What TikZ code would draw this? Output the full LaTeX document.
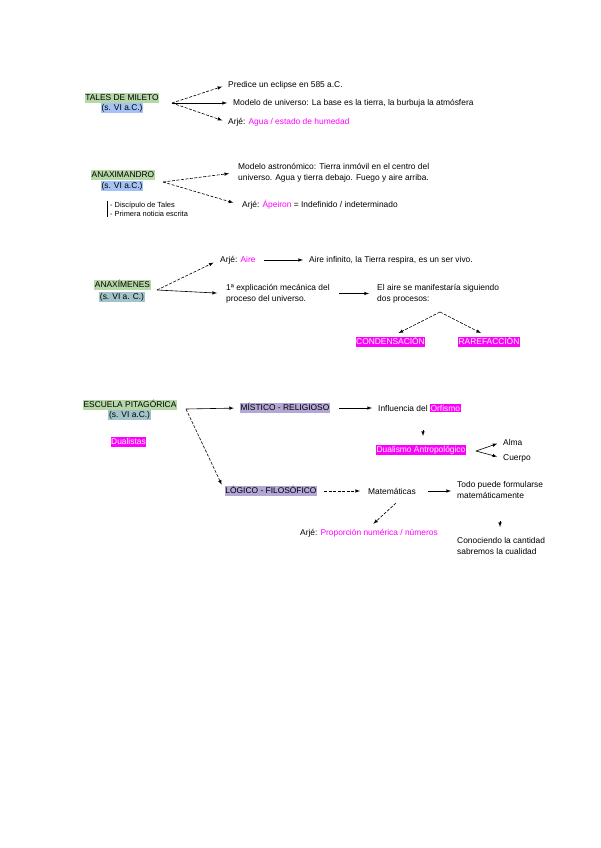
\documentclass[tikz,border=0pt]{standalone}
\usepackage{fontspec}
\setmainfont{Liberation Sans}
\usetikzlibrary{arrows}

\definecolor{hlgreen}{HTML}{B6D7A8}
\definecolor{hlblue}{HTML}{A4C2F4}
\definecolor{hlteal}{HTML}{A2C4C9}
\definecolor{hlpurple}{HTML}{B4A7D6}
\definecolor{hlmag}{HTML}{FF00FF}

\newcommand{\hlmagbox}[1]{{\setlength{\fboxsep}{0.6pt}\colorbox{hlmag}{\textcolor{white}{#1}}}}

\tikzstyle{txt} = [anchor=west, inner sep=1pt, font=\fontsize{8.4}{11}\selectfont]
\tikzstyle{note} = [anchor=west, inner sep=1pt, align=left, font=\fontsize{7.4}{9}\selectfont]
\tikzstyle{hl} = [inner xsep=0.6pt, inner ysep=0.6pt, text height=6.2pt, text depth=1.8pt,
    font=\fontsize{8.4}{9}\selectfont]
\tikzstyle{title} = [hl, fill=hlgreen]
\tikzstyle{mag} = [hl, fill=hlmag, text=white]
\tikzstyle{purp} = [hl, fill=hlpurple]
\tikzstyle{line} = [draw, -latex, semithick, shorten >=5pt, shorten <=5pt]
\tikzstyle{dline} = [line, dash pattern=on 3pt off 1.5pt]
\tikzstyle{fork} = [shorten <=0pt]

\begin{document}
\begin{tikzpicture}[x=1pt, y=-1pt]
\useasboundingbox (0,0) rectangle (600,848);

%Tales
\node (Tales) [title] at (122,98) {TALES DE MILETO};
\node (TalesSiglo) [hl, fill=hlblue] at (122,108) {(s. VI a.C.)};
\coordinate (TalesFork) at (172,103);
\node (Eclipse) [txt] at (227,85) {Predice un eclipse en 585 a.C.};
\node (ModeloT) [txt] at (232,103) {Modelo de universo: La base es la tierra, la burbuja la atmósfera};
\node (ArjeT) [txt] at (227,122) {Arjé: \textcolor{hlmag}{Agua / estado de humedad}};

\path [dline, fork](TalesFork)--(Eclipse.west);
\path [line, fork](TalesFork)--(ModeloT.west);
\path [dline, fork](TalesFork)--(ArjeT.west);

%Anaximandro
\node (Anaxi) [title] at (123,175) {ANAXIMANDRO};
\node (AnaxiSiglo) [hl, fill=hlblue] at (122,186) {(s. VI a.C.)};
\coordinate (AnaxiFork) at (163,182);
\node (ModeloA) [txt, align=left] at (237,172.5) {Modelo astronómico: Tierra inmóvil en el centro del\\universo. Agua y tierra debajo. Fuego y aire arriba.};
\node (ArjeA) [txt] at (241,205) {Arjé: \textcolor{hlmag}{Ápeiron} = Indefinido / indeterminado};
\node (Notas) [note] at (107,209) {\hspace{2pt}- Discípulo de Tales\\\hspace{2pt}- Primera noticia escrita};

\path [dline, fork, shorten >=8pt](AnaxiFork)--(ModeloA.west);
\path [dline, fork, shorten >=8pt](AnaxiFork)--(ArjeA.west);
\draw [semithick](Notas.north west)--(Notas.south west);

%Anaximenes
\node (Anaxim) [title] at (122.5,285) {ANAXÍMENES};
\node (AnaximSiglo) [hl, fill=hlteal] at (122,297) {(s. VI a. C.)};
\coordinate (AnaximFork) at (157,290);
\node (ArjeM) [txt] at (219,260) {Arjé: \textcolor{hlmag}{Aire}};
\node (AireInf) [txt] at (308,260) {Aire infinito, la Tierra respira, es un ser vivo.};
\node (Explic) [txt, align=left] at (225,293.5) {1ª explicación mecánica del\\proceso del universo.};
\node (Procesos) [txt, align=left] at (376,293.5) {El aire se manifestaría siguiendo\\dos procesos:};
\coordinate (ProcFork) at (440,312);
\node (Conden) [mag] at (390.5,342) {CONDENSACIÓN};
\node (Raref) [mag] at (489,342) {RAREFACCIÓN};

\path [dline, fork, shorten >=6pt](AnaximFork)--(ArjeM.west);
\path [line, fork, shorten >=8pt](AnaximFork)--(Explic.west);
\path [line, shorten <=7pt](ArjeM)--(AireInf);
\path [line, shorten <=8pt, shorten >=7pt](Explic.east |- Procesos.west)--(Procesos.west);
\path [dline, fork, shorten >=9pt](ProcFork)--(Conden.north);
\path [dline, fork, shorten >=9pt](ProcFork)--(Raref.north);

%Escuela pitagorica
\node (Pitag) [title] at (130,405) {ESCUELA PITAGÓRICA};
\node (PitagSiglo) [hl, fill=hlteal] at (129.5,415) {(s. VI a.C.)};
\node (Dualistas) [mag] at (128.5,442) {Dualistas};
\coordinate (PitagFork) at (186,409);
\node (Mistico) [purp] at (285,408) {MÍSTICO - RELIGIOSO};
\node (Logico) [purp] at (271,491) {LÓGICO - FILOSÓFICO};

%Mistico
\node (Orfismo) [txt] at (377,408) {Influencia del \hlmagbox{Orfismo}};
\coordinate (OrfTipA) at (423,430);
\coordinate (OrfTipB) at (423,436);
\node (Dualismo) [mag] at (421,450) {Dualismo Antropológico};
\coordinate (DualFork) at (476,451);
\node (Alma) [txt] at (502,442) {Alma};
\node (Cuerpo) [txt] at (502,458) {Cuerpo};

%Logico
\node (Matem) [txt] at (367,491) {Matemáticas};
\node (Todo) [txt, align=left] at (456,490) {Todo puede formularse\\matemáticamente};
\coordinate (MatemFoot) at (396,503);
\node (ArjeP) [txt] at (299,533) {Arjé: \textcolor{hlmag}{Proporción numérica / números}};
\coordinate (TodoTipA) at (500,521);
\coordinate (TodoTipB) at (500,527);
\node (Conoc) [txt, align=left] at (456,546) {Conociendo la cantidad\\sabremos la cualidad};

\path [line, fork, shorten >=6pt](PitagFork)--(Mistico.west);
\path [dline, fork, shorten >=7pt](PitagFork)--(Logico.west);
\path [line, shorten <=9pt](Mistico.east)--(Orfismo.west);
\path [line, shorten <=0pt, shorten >=0pt](OrfTipA)--(OrfTipB);
\path [line, fork, shorten >=5pt](DualFork)--(Alma.west);
\path [line, fork, shorten >=5pt](DualFork)--(Cuerpo.west);
\path [dline, shorten <=7pt, shorten >=7pt](Logico.east)--(Matem.west);
\path [line, shorten <=11pt](Matem.east)--(Todo.west |- Matem.east);
\path [dline, fork, shorten >=6pt](MatemFoot)--(ArjeP.north);
\path [line, shorten <=0pt, shorten >=0pt](TodoTipA)--(TodoTipB);

\end{tikzpicture}
\end{document}
